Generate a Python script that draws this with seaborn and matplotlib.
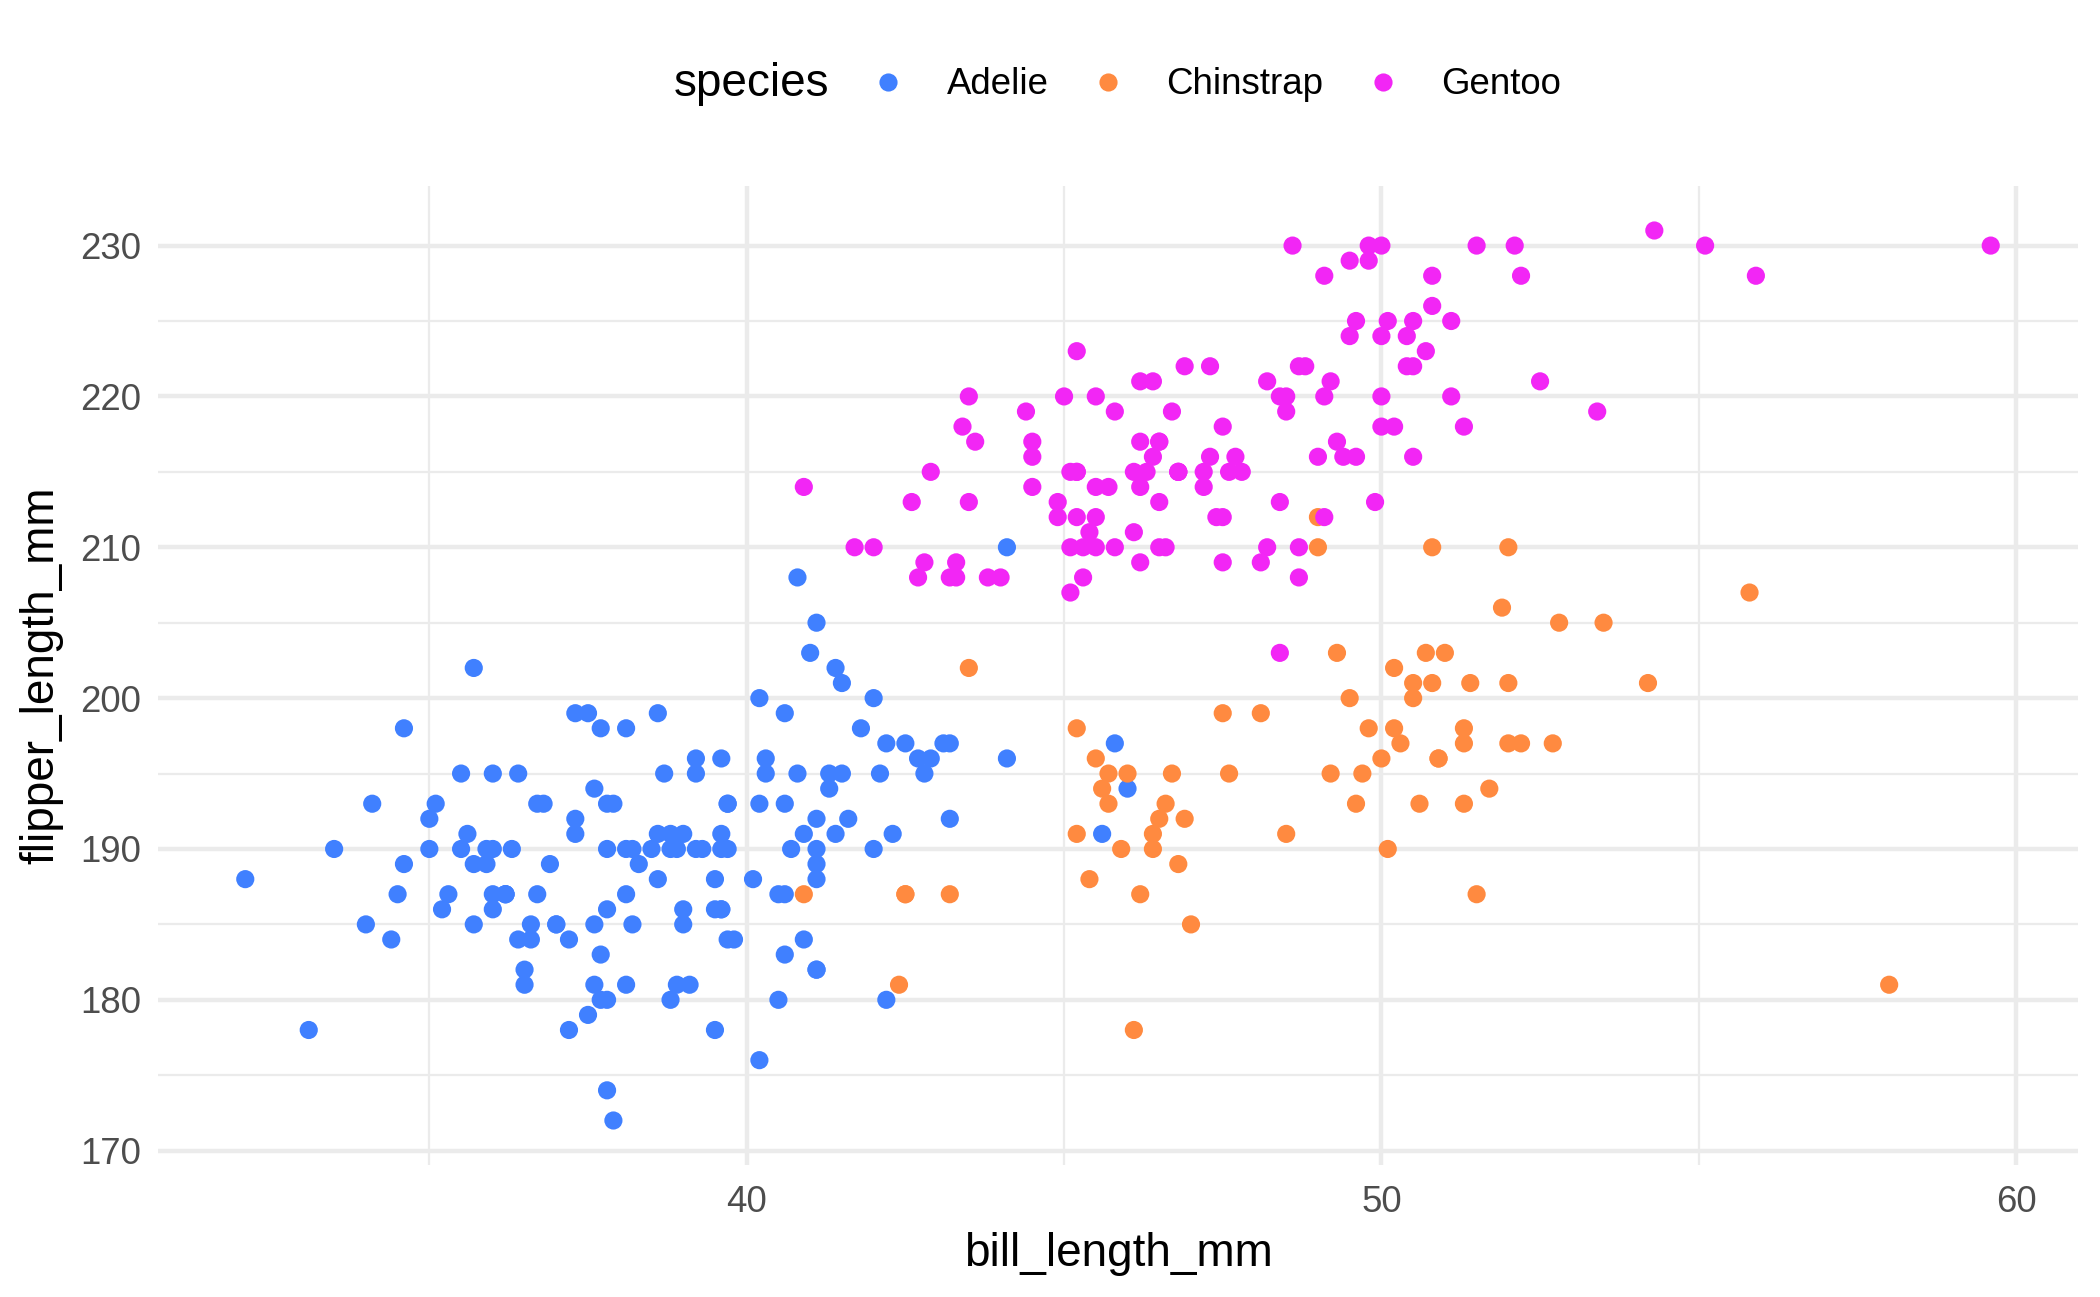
import matplotlib
matplotlib.use("Agg")
import matplotlib.pyplot as plt
import seaborn as sns
import pandas as pd

# values (palmer penguins, NA rows dropped)
adelie_bill = [39.1, 39.5, 40.3, 36.7, 39.3, 38.9, 39.2, 34.1, 42.0, 37.8, 37.8, 41.1, 38.6, 34.6,
               36.6, 38.7, 42.5, 34.4, 46.0, 37.8, 37.7, 35.9, 38.2, 38.8, 35.3, 40.6, 40.5, 37.9,
               40.5, 39.5, 37.2, 39.5, 40.9, 36.4, 39.2, 38.8, 42.2, 37.6, 39.8, 36.5, 40.8, 36.0,
               44.1, 37.0, 39.6, 41.1, 37.5, 36.0, 42.3, 39.6, 40.1, 35.0, 42.0, 34.5, 41.4, 39.0,
               40.6, 36.5, 37.6, 35.7, 41.3, 37.6, 41.1, 36.4, 41.6, 35.5, 41.1, 35.9, 41.8, 33.5,
               39.7, 39.6, 45.8, 35.5, 42.8, 40.9, 37.2, 36.2, 42.1, 34.6, 42.9, 36.7, 35.1, 37.3,
               41.3, 36.3, 36.9, 38.3, 38.9, 35.7, 41.1, 34.0, 39.6, 36.2, 40.8, 38.1, 40.3, 33.1,
               43.2, 35.0, 41.0, 37.7, 37.8, 37.9, 39.7, 38.6, 38.2, 38.1, 43.2, 38.1, 45.6, 39.7,
               42.2, 39.6, 42.7, 38.6, 37.3, 35.7, 41.1, 36.2, 37.7, 40.2, 41.4, 35.2, 40.6, 38.8,
               41.5, 39.0, 44.1, 38.5, 43.1, 36.8, 37.5, 38.1, 41.1, 35.6, 40.2, 37.0, 39.7, 40.2,
               40.6, 32.1, 40.7, 37.3, 39.0, 39.2, 36.6, 36.0, 37.8, 36.0, 41.5]
adelie_flipper = [181, 186, 195, 193, 190, 181, 195, 193, 190, 186, 180, 182, 191, 198,
                  185, 195, 197, 184, 194, 174, 180, 189, 185, 180, 187, 183, 187, 172,
                  180, 178, 178, 188, 184, 195, 196, 190, 180, 181, 184, 182, 195, 186,
                  196, 185, 190, 182, 179, 190, 191, 186, 188, 190, 200, 187, 191, 186,
                  193, 181, 194, 185, 195, 185, 192, 184, 192, 195, 188, 190, 198, 190,
                  190, 196, 197, 190, 195, 191, 184, 187, 195, 189, 196, 187, 193, 191,
                  194, 190, 189, 189, 190, 202, 205, 185, 186, 187, 208, 190, 196, 178,
                  192, 192, 203, 183, 190, 193, 184, 199, 190, 181, 197, 198, 191, 193,
                  197, 191, 196, 188, 199, 189, 189, 187, 198, 176, 202, 186, 199, 191,
                  195, 191, 210, 190, 197, 193, 199, 187, 190, 191, 200, 185, 193, 193,
                  187, 188, 190, 192, 185, 190, 184, 195, 193, 187, 201]

chinstrap_bill = [46.5, 50.0, 51.3, 45.4, 52.7, 45.2, 46.1, 51.3, 46.0, 51.3, 46.6, 51.7, 47.0,
                  52.0, 45.9, 50.5, 50.3, 58.0, 46.4, 49.2, 42.4, 48.5, 43.2, 50.6, 46.7, 52.0,
                  50.5, 49.5, 46.4, 52.8, 40.9, 54.2, 42.5, 51.0, 49.7, 47.5, 47.6, 52.0, 46.9,
                  53.5, 49.0, 46.2, 50.9, 45.5, 50.9, 50.8, 50.1, 49.0, 51.5, 49.8, 48.1, 51.4,
                  45.7, 50.7, 42.5, 52.2, 45.2, 49.3, 50.2, 45.6, 51.9, 46.8, 45.7, 55.8, 43.5,
                  49.6, 50.8, 50.2]
chinstrap_flipper = [192, 196, 193, 188, 197, 198, 178, 197, 195, 198, 193, 194, 185,
                     201, 190, 201, 197, 181, 190, 195, 181, 191, 187, 193, 195, 197,
                     200, 200, 191, 205, 187, 201, 187, 203, 195, 199, 195, 210, 192,
                     205, 210, 187, 196, 196, 196, 201, 190, 212, 187, 198, 199, 201,
                     193, 203, 187, 197, 191, 203, 202, 194, 206, 189, 195, 207, 202,
                     193, 210, 198]

gentoo_bill = [46.1, 50.0, 48.7, 50.0, 47.6, 46.5, 45.4, 46.7, 43.3, 46.8, 40.9, 49.0, 45.5,
               48.4, 45.8, 49.3, 42.0, 49.2, 46.2, 48.7, 50.2, 45.1, 46.5, 46.3, 42.9, 46.1,
               44.5, 47.8, 48.2, 50.0, 47.3, 42.8, 45.1, 59.6, 49.1, 48.4, 42.6, 44.4, 44.0,
               48.7, 42.7, 49.6, 45.3, 49.6, 50.5, 43.6, 45.5, 50.5, 44.9, 45.2, 46.6, 48.5,
               45.1, 50.1, 46.5, 45.0, 43.8, 45.5, 43.2, 50.4, 45.3, 46.2, 45.7, 54.3, 45.8,
               49.8, 46.2, 49.5, 43.5, 50.7, 47.7, 46.4, 48.2, 46.5, 46.4, 48.6, 47.5, 51.1,
               45.2, 45.2, 49.1, 52.5, 47.4, 50.0, 44.9, 50.8, 43.4, 51.3, 47.5, 52.1, 47.5,
               52.2, 45.5, 49.5, 44.5, 50.8, 49.4, 46.9, 48.4, 51.1, 48.5, 55.9, 47.2, 49.1,
               47.3, 46.8, 41.7, 53.4, 43.3, 48.1, 50.5, 49.8, 43.5, 51.5, 46.2, 55.1, 44.5,
               48.8, 47.2, 46.8, 50.4, 45.2, 49.9]
gentoo_flipper = [211, 230, 210, 218, 215, 210, 211, 219, 209, 215, 214, 216, 214,
                  213, 210, 217, 210, 221, 209, 222, 218, 215, 213, 215, 215, 215,
                  216, 215, 210, 220, 222, 209, 207, 230, 220, 220, 213, 219, 208,
                  208, 208, 225, 210, 216, 222, 217, 210, 225, 213, 215, 210, 220,
                  210, 225, 217, 220, 208, 220, 208, 224, 208, 221, 214, 231, 219,
                  230, 214, 229, 220, 223, 216, 221, 221, 217, 216, 230, 209, 220,
                  215, 223, 212, 221, 212, 224, 212, 228, 218, 218, 212, 230, 218,
                  228, 212, 224, 214, 226, 216, 222, 203, 225, 219, 228, 215, 228,
                  216, 215, 210, 219, 208, 209, 216, 229, 213, 230, 217, 230, 217,
                  222, 214, 215, 222, 212, 213]

species_names = ["Adelie", "Chinstrap", "Gentoo"]
species_colors = ["#4080ff", "#ff8a40", "#f226f5"]

df = pd.concat([
    pd.DataFrame({"bill_length_mm": adelie_bill, "flipper_length_mm": adelie_flipper, "species": "Adelie"}),
    pd.DataFrame({"bill_length_mm": chinstrap_bill, "flipper_length_mm": chinstrap_flipper, "species": "Chinstrap"}),
    pd.DataFrame({"bill_length_mm": gentoo_bill, "flipper_length_mm": gentoo_flipper, "species": "Gentoo"}),
], ignore_index=True)

sns.set_style("white")
plt.rcParams["font.family"] = ["Liberation Sans", "DejaVu Sans"]
plt.rcParams["text.color"] = "black"
plt.rcParams["axes.labelcolor"] = "black"

fig = plt.figure(figsize=(7, 1297 / 300), dpi=300)
ax = fig.add_axes([158 / 2100, 1 - 1165 / 1297, 1920 / 2100, 979 / 1297])

sns.scatterplot(data=df, x="bill_length_mm", y="flipper_length_mm", hue="species",
                hue_order=species_names, palette=species_colors, s=19, linewidth=0,
                ax=ax, zorder=3)

# ggplot-like 5% expansion
xmin, xmax = df["bill_length_mm"].min(), df["bill_length_mm"].max()
ymin, ymax = df["flipper_length_mm"].min(), df["flipper_length_mm"].max()
ax.set_xlim(xmin - 0.05 * (xmax - xmin), xmax + 0.05 * (xmax - xmin))
ax.set_ylim(ymin - 0.05 * (ymax - ymin), ymax + 0.05 * (ymax - ymin))

ax.set_xticks([40, 50, 60])
ax.set_xticks([35, 45, 55], minor=True)
ax.set_yticks([170, 180, 190, 200, 210, 220, 230])
ax.set_yticks([175, 185, 195, 205, 215, 225], minor=True)
ax.grid(True, which="major", color="#ebebeb", linewidth=1.07, zorder=0)
ax.grid(True, which="minor", color="#ebebeb", linewidth=0.53, zorder=0)
ax.set_axisbelow(True)
for s in ax.spines.values():
    s.set_visible(False)
ax.tick_params(which="both", length=0, labelsize=8.8, labelcolor="#4d4d4d")
ax.tick_params(axis="x", pad=4.8)
ax.tick_params(axis="y", pad=4)
ax.set_xlabel("bill_length_mm", fontsize=11, labelpad=3, color="black")
ax.set_ylabel("flipper_length_mm", fontsize=11, labelpad=4, color="black")

# legend on top, title to the left
handles, labels = ax.get_legend_handles_labels()
ax.get_legend().remove()
leg = fig.legend(handles, labels, ncol=3, loc="center left", bbox_to_anchor=(870 / 2100, 1 - 85 / 1297),
                 frameon=False, fontsize=8.8, handlelength=1.0, handletextpad=1.09, columnspacing=1.12,
                 markerscale=1.0, borderpad=0, borderaxespad=0)
for t in leg.get_texts():
    t.set_color("black")
fig.text(674 / 2100, 1 - 84 / 1297, "species", fontsize=11, ha="left", va="center", color="black")

fig.savefig("out.png", dpi=300)
